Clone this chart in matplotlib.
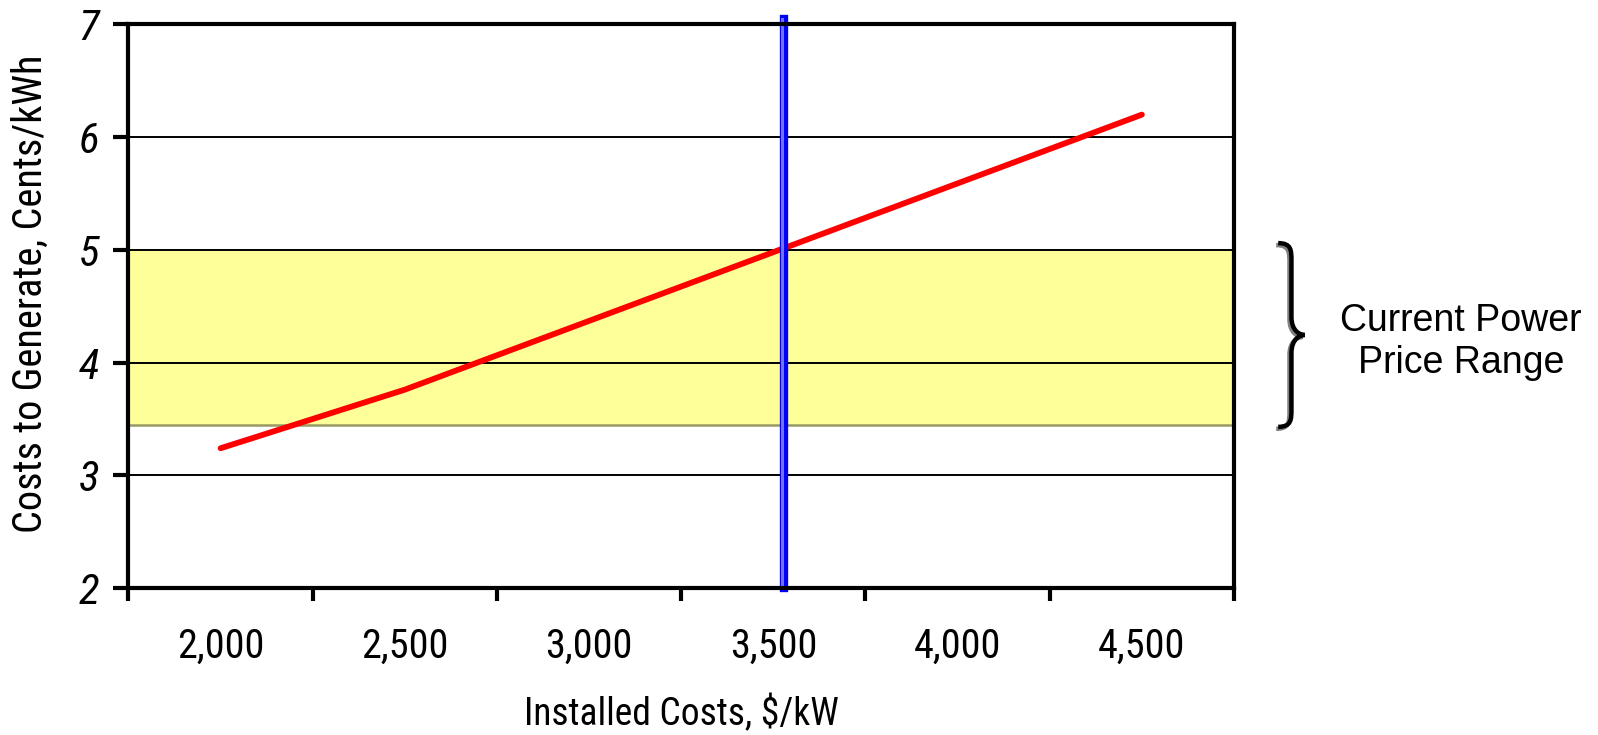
import matplotlib
matplotlib.use("Agg")
import matplotlib.pyplot as plt
import matplotlib.transforms as mtransforms
from matplotlib.path import Path
from matplotlib.patches import PathPatch
from matplotlib import font_manager
import numpy as np

# ==========================================
# data
# ==========================================
installed_costs = [2000, 2500, 3000, 3500, 4000, 4500]
cost_labels = ["2,000", "2,500", "3,000", "3,500", "4,000", "4,500"]
gen_costs = [3.24, 3.76, 4.37, 4.98, 5.59, 6.20]
price_range = (3.45, 5.0)
current_cost = 3530
y_ticks = [2, 3, 4, 5, 6, 7]

# pick an Arial Narrow look-alike that is installed
installed = {f.name for f in font_manager.fontManager.ttflist}
wanted = ["Liberation Sans Narrow", "Arial Narrow", "Roboto Condensed", "Archivo Narrow"]
narrow = [f for f in wanted if f in installed][:1] + ["DejaVu Sans"]
arial = ["Liberation Sans", "DejaVu Sans"]

fig = plt.figure(figsize=(15.98, 7.35), dpi=100)
ax = fig.add_axes([0.0804, 0.2000, 0.6918, 0.7667])

n = len(installed_costs)
xpos = np.arange(n) + 0.5
ax.set_xlim(0, n)
ax.set_ylim(2, 7)

# price band
ax.axhspan(price_range[0], price_range[1], color="#FFFF99", lw=0, zorder=1)
ax.axhline(price_range[0], color="#999966", lw=1.8, zorder=2)

for y in y_ticks[1:-1]:
    ax.axhline(y, color="black", lw=1.4, zorder=2)

ax.plot(xpos, gen_costs, color="#FF0000", lw=4.2, solid_capstyle="round", zorder=4)

# current installed cost marker (category axis -> position)
bx = (current_cost - installed_costs[0]) / (installed_costs[1] - installed_costs[0]) + 0.5
ax.plot([bx, bx], [2, 7.05], color="#0000F5", lw=6.0, clip_on=False, zorder=5)
off = mtransforms.offset_copy(ax.transData, fig=fig, x=-2.9, y=0, units="dots")
ax.plot([bx, bx], [2.02, 7.05], color="#7272FF", lw=2.2, transform=off, clip_on=False, zorder=6)

# axes styling
for s in ax.spines.values():
    s.set_linewidth(3.0)
    s.set_zorder(7)
ax.set_xticks(np.arange(n + 1))
ax.set_xticklabels([])
ax.set_xticks(xpos, minor=True)
ax.set_xticklabels(cost_labels, minor=True, fontsize=29, family=narrow)
ax.tick_params(axis="x", which="major", length=9, width=3.0, direction="out")
ax.tick_params(axis="x", which="minor", length=0, pad=28)
ax.set_yticks(y_ticks)
ax.set_yticklabels([str(v) for v in y_ticks], fontsize=31, family=narrow, style="italic")
ax.tick_params(axis="y", length=11, width=3.0, pad=10)

ax.set_xlabel("Installed Costs, $/kW", fontsize=27, family=narrow)
ax.xaxis.set_label_coords(0.5, -0.19)
ax.set_ylabel("Costs to Generate, Cents/kWh", fontsize=29, family=narrow)
ax.yaxis.set_label_coords(-0.071, 0.522)

# brace for the current power price range
trans = mtransforms.blended_transform_factory(ax.transAxes, ax.transData)
x0, xs, xt = 1.040, 1.052, 1.064
top, bot = price_range[1] + 0.06, price_range[0] - 0.02
mid = (top + bot) / 2
r = 0.16
verts = [(x0, top), (xs, top), (xs, top - r * 0.4), (xs, top - r),
         (xs, mid + r), (xs, mid + r * 0.2), (xt - 0.004, mid), (xt, mid),
         (xt - 0.004, mid), (xs, mid - r * 0.2), (xs, mid - r),
         (xs, bot + r), (xs, bot + r * 0.4), (xs, bot), (x0, bot)]
codes = [Path.MOVETO, Path.CURVE4, Path.CURVE4, Path.CURVE4,
         Path.LINETO, Path.CURVE4, Path.CURVE4, Path.CURVE4,
         Path.CURVE4, Path.CURVE4, Path.CURVE4,
         Path.LINETO, Path.CURVE4, Path.CURVE4, Path.CURVE4]
path = Path(verts, codes)
shadow = mtransforms.offset_copy(trans, fig=fig, x=-2, y=-2, units="dots")
ax.add_patch(PathPatch(path, fc="none", ec="#808080", lw=3.2, transform=shadow, clip_on=False))
ax.add_patch(PathPatch(path, fc="none", ec="black", lw=3.2, transform=trans, clip_on=False))

ax.text(1.2052, mid - 0.06, "Current Power\nPrice Range", transform=trans, ha="center", va="center",
        multialignment="center", fontsize=27, family=arial, linespacing=1.2)

fig.savefig("out.png", dpi=100)
